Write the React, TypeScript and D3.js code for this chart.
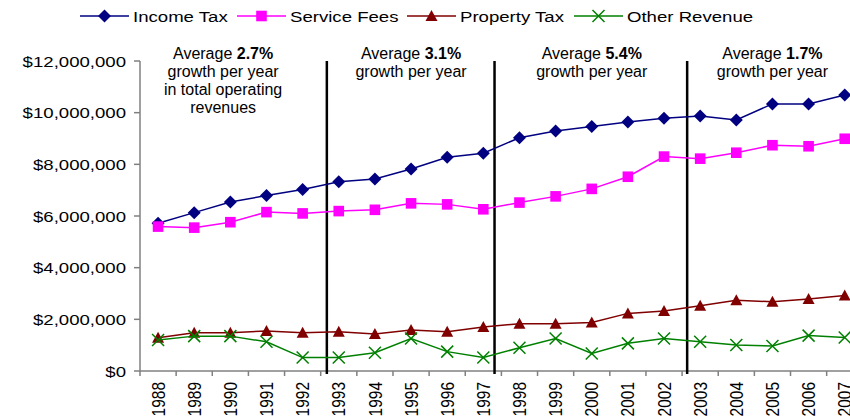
import React from 'react'
import * as d3 from 'd3'

// fiscal years on the x axis
const years = [
	'1988', '1989', '1990', '1991', '1992', '1993', '1994', '1995', '1996', '1997',
	'1998', '1999', '2000', '2001', '2002', '2003', '2004', '2005', '2006', '2007',
]

// revenue series, dollars
const incomeTax = [
	5720000, 6130000, 6540000, 6790000, 7030000, 7330000, 7430000, 7820000, 8270000, 8430000,
	9030000, 9290000, 9460000, 9640000, 9780000, 9870000, 9720000, 10340000, 10340000, 10680000,
]
const serviceFees = [
	5590000, 5550000, 5760000, 6150000, 6100000, 6190000, 6240000, 6490000, 6450000, 6260000,
	6520000, 6760000, 7050000, 7520000, 8300000, 8220000, 8450000, 8740000, 8700000, 8990000,
]
const propertyTax = [
	1290000, 1480000, 1480000, 1550000, 1480000, 1520000, 1430000, 1590000, 1520000, 1700000,
	1830000, 1830000, 1880000, 2230000, 2320000, 2530000, 2740000, 2680000, 2790000, 2920000,
]
const otherRevenue = [
	1200000, 1350000, 1350000, 1130000, 520000, 520000, 710000, 1260000, 750000, 520000,
	900000, 1260000, 680000, 1070000, 1260000, 1130000, 1010000, 970000, 1370000, 1300000,
]

const seriesNames = ['Income Tax', 'Service Fees', 'Property Tax', 'Other Revenue']
const yTicks = [0, 2000000, 4000000, 6000000, 8000000, 10000000, 12000000]

// period dividers (fractional year positions) and the growth notes
const dividerYears = [1992.67, 1997.31, 2002.64]
const noteYears = [1989.8, 1995, 2000, 2005]
const noteRates = ['2.7%', '3.1%', '5.4%', '1.7%']
const noteExtraLines = [['in total operating', 'revenues'], [], [], []]

const W = 850,
	H = 419
const left = 140,
	top = 61,
	bottom = 371
const step = 36.14
const FONT = '"Liberation Sans", Arial, sans-serif'
const STRETCH = 1.2

const colors = ['#000080', '#FF00FF', '#800000', '#008000']
const legendLeft = [80, 237, 407, 574]

const Marker = ({ kind, x, y }: { kind: number; x: number; y: number }) => {
	const c = colors[kind]
	if (kind === 0) return <path d={`M${x},${y - 6.5}L${x + 6.5},${y}L${x},${y + 6.5}L${x - 6.5},${y}Z`} fill={c} />
	if (kind === 1) return <rect x={x - 5.3} y={y - 5.3} width={10.6} height={10.6} fill={c} />
	if (kind === 2) return <path d={`M${x},${y - 6}L${x + 6},${y + 5}L${x - 6},${y + 5}Z`} fill={c} />
	return (
		<path
			d={`M${x - 6},${y - 6}L${x + 6},${y + 6}M${x + 6},${y - 6}L${x - 6},${y + 6}`}
			stroke={c}
			strokeWidth={1.5}
			fill="none"
		/>
	)
}

const App = () => {
	const x = d3
		.scaleBand()
		.domain(years)
		.range([left, left + step * years.length])
		.paddingInner(0)
		.paddingOuter(0)
	const cx = (yr: string) => x(yr)! + x.bandwidth() / 2
	const xLin = d3
		.scaleLinear()
		.domain([+years[0], +years[years.length - 1]])
		.range([cx(years[0]), cx(years[years.length - 1])])
	const y = d3.scaleLinear().domain([0, 12000000]).range([bottom, top])

	const series = [incomeTax, serviceFees, propertyTax, otherRevenue]
	const line = d3
		.line<number>()
		.x((_, i) => cx(years[i]))
		.y((d) => y(d))
	const fmt = d3.format('$,')

	return (
		<svg
			width={W}
			height={H}
			style={{ position: 'absolute', left: 0, top: 0, display: 'block', background: '#fff' }}
			fontFamily={FONT}
		>
			<rect width={W} height={H} fill="#fff" />

			{/* legend */}
			{seriesNames.map((name, i) => (
				<g key={name}>
					<line x1={legendLeft[i]} x2={legendLeft[i] + 49} y1={16} y2={16} stroke={colors[i]} strokeWidth={1.5} />
					<Marker kind={i} x={legendLeft[i] + 24.5} y={16} />
					<text
						transform={`translate(${legendLeft[i] + 53},21.5) scale(${STRETCH},1)`}
						fontSize={15.5}
						fill="#000"
					>
						{name}
					</text>
				</g>
			))}

			{/* y axis */}
			<line x1={left} x2={left} y1={top} y2={bottom} stroke="#808080" strokeWidth={1.5} />
			{yTicks.map((t) => (
				<g key={t}>
					<line x1={left - 6} x2={left} y1={y(t)} y2={y(t)} stroke="#808080" strokeWidth={1.5} />
					<text
						transform={`translate(${left - 14},${y(t) + 5.5}) scale(${STRETCH},1)`}
						textAnchor="end"
						fontSize={15.5}
						fill="#000"
					>
						{fmt(t)}
					</text>
				</g>
			))}

			{/* x axis */}
			<line x1={left} x2={W} y1={bottom} y2={bottom} stroke="#808080" strokeWidth={1.5} />
			{years.map((yr) => (
				<g key={yr}>
					<line x1={x(yr)!} x2={x(yr)!} y1={bottom} y2={bottom + 5} stroke="#808080" strokeWidth={1.5} />
					<text
						transform={`translate(${cx(yr) + 6.6},382) scale(${STRETCH},1) rotate(-90)`}
						textAnchor="end"
						fontSize={15.5}
						fill="#000"
					>
						{yr}
					</text>
				</g>
			))}

			{/* period dividers */}
			{dividerYears.map((d) => (
				<line key={d} x1={xLin(d)} x2={xLin(d)} y1={top} y2={bottom + 3} stroke="#000" strokeWidth={2.5} />
			))}

			{/* growth notes */}
			{noteYears.map((ny, i) => (
				<text key={ny} x={xLin(ny)} y={58.5} textAnchor="middle" fontSize={16} fill="#000">
					<tspan x={xLin(ny)}>
						Average <tspan fontWeight="bold">{noteRates[i]}</tspan>
					</tspan>
					<tspan x={xLin(ny)} dy={18.3}>
						growth per year
					</tspan>
					{noteExtraLines[i].map((l) => (
						<tspan key={l} x={xLin(ny)} dy={18.3}>
							{l}
						</tspan>
					))}
				</text>
			))}

			{/* series */}
			{series.map((s, k) => (
				<g key={seriesNames[k]}>
					<path d={line(s)!} fill="none" stroke={colors[k]} strokeWidth={1.5} />
					{s.map((v, i) => (
						<Marker key={i} kind={k} x={cx(years[i])} y={y(v)} />
					))}
				</g>
			))}
		</svg>
	)
}

export default App
